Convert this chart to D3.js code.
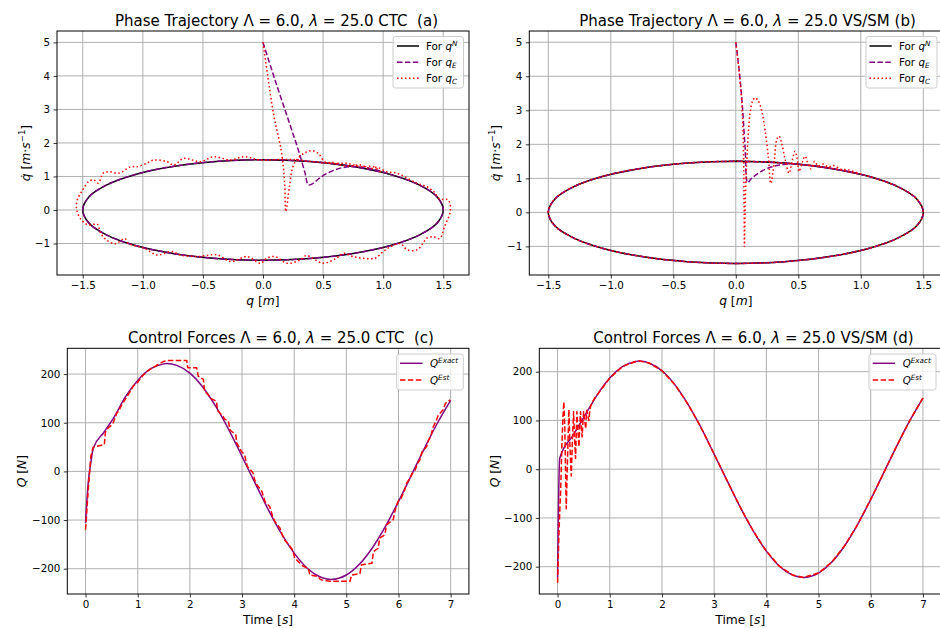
<!DOCTYPE html>
<html><head><meta charset="utf-8">
<script src="https://cdn.jsdelivr.net/npm/d3@7"></script>
<style>
body{margin:0;background:#fff;}
text{font-family:'DejaVu Sans',sans-serif;fill:#000;white-space:pre;}
</style>
</head><body><script>
// ---------------- DATA ----------------
// desired phase trajectory q^N : [q, qdot]
const qN = [[0,1.5],[0.388,1.449],[0.75,1.299],[1.061,1.061],[1.299,0.75],[1.449,0.388],[1.5,0],[1.449,-0.388],[1.299,-0.75],[1.061,-1.061],[0.75,-1.299],[0.388,-1.449],[0,-1.5],[-0.388,-1.449],[-0.75,-1.299],[-1.061,-1.061],[-1.299,-0.75],[-1.449,-0.388],[-1.5,0],[-1.449,0.388],[-1.299,0.75],[-1.061,1.061],[-0.75,1.299],[-0.388,1.449],[0,1.5],[0.388,1.449],[0.75,1.299],[0.985,1.131]];

// panel (a) CTC: q_E transient (then rides on q^N)
const qE_a_start = [[0,5],[0.1,3.88],[0.22,2.59],[0.3,1.72],[0.35,1.1],[0.377,0.75],[0.41,0.78],[0.47,0.95],[0.56,1.14],[0.67,1.27],[0.78,1.29],[0.89,1.24]];
// panel (a) CTC: q_C
const qC_a = [[0,5],[0.086,2.9],[0.155,1.7],[0.18,0.8],[0.19,-0.05],[0.22,0.7],[0.25,1.3],[0.29,1.54],[0.35,1.71],[0.405,1.77],[0.46,1.69],[0.5,1.49],[0.53,1.41],
 [0.58,1.42],[0.64,1.34],[0.72,1.31],[0.81,1.34],[0.89,1.24],[0.95,1.27],[1.03,1.14],[1.11,1.1],[1.2,0.95],[1.28,0.8],[1.36,0.7],[1.42,0.55],[1.47,0.33],[1.54,0.3],[1.56,0],
 [1.51,-0.5],[1.47,-0.85],[1.42,-0.8],[1.36,-0.85],[1.33,-1.0],[1.28,-1.19],[1.2,-1.19],[1.14,-1.0],[1.06,-1.1],[1.0,-1.24],[0.93,-1.44],[0.75,-1.39],[0.67,-1.29],[0.61,-1.44],[0.5,-1.59],[0.36,-1.36],[0.31,-1.49],[0.2,-1.59],[0.1,-1.39],[0.03,-1.44],[-0.02,-1.59],
 [-0.13,-1.39],[-0.27,-1.54],[-0.38,-1.34],[-0.55,-1.39],[-0.69,-1.34],[-0.76,-1.24],[-0.88,-1.34],[-0.99,-1.14],[-1.12,-1.0],[-1.15,-0.85],[-1.23,-1.01],[-1.3,-0.9],[-1.35,-0.7],[-1.38,-0.42],[-1.45,-0.45],[-1.51,-0.3],[-1.55,0],
 [-1.545,0.3],[-1.5,0.6],[-1.45,0.85],[-1.41,0.9],[-1.37,0.8],[-1.33,1.1],[-1.28,1.14],[-1.2,1.1],[-1.1,1.29],[-1.05,1.29],[-0.97,1.39],[-0.91,1.49],[-0.8,1.44],[-0.74,1.34],[-0.66,1.54],[-0.52,1.44],[-0.41,1.59],[-0.27,1.49],[-0.16,1.59],[-0.02,1.49],
 [0.17,1.51],[0.3,1.49],[0.42,1.44],[0.58,1.39],[0.7,1.39],[0.81,1.29],[0.92,1.29],[0.98,1.13]];

// panel (b) VS/SM
const qE_b_start = [[0,5],[0.02,4.4],[0.047,3.4],[0.074,1.93],[0.095,0.87],[0.12,0.98],[0.15,1.07],[0.2,1.2],[0.25,1.29],[0.3,1.35],[0.35,1.39],[0.45,1.43],[0.55,1.4]];
const qC_b_start = [[0,5],[0.025,4.2],[0.045,3.4],[0.058,2.4],[0.064,1.2],[0.067,0],[0.069,-1.0],[0.075,0.2],[0.087,1.44],[0.1,2.3],[0.114,2.91],[0.135,3.28],[0.154,3.37],[0.175,3.3],[0.194,3.16],[0.215,2.85],[0.234,2.42],[0.26,1.64],[0.28,0.85],[0.306,1.44],[0.327,2.13],[0.346,2.24],[0.367,2.03],[0.395,1.55],[0.426,1.15],[0.45,1.5],[0.474,1.8],[0.49,1.6],[0.506,1.2],[0.53,1.45],[0.554,1.65],[0.58,1.4],[0.6,1.28],[0.63,1.5],[0.66,1.36],[0.7,1.42],[0.74,1.33],[0.78,1.38],[0.84,1.27],[0.9,1.25],[1.0,1.13],[1.061,1.061]];

// control forces [t, Q]
const Qexact_tail = [[0.75,151],[1.0,187],[1.25,211],[1.5,221],[1.57,222],[1.75,218],[2.0,202],[2.25,173],[2.5,133],[2.75,85],[3.0,31],[3.25,-24],[3.5,-78],[3.75,-127],[4.0,-168],[4.25,-199],[4.5,-217],[4.71,-222],[5.0,-213],[5.25,-191],[5.5,-157],[5.75,-113],[6.0,-62],[6.25,-7],[6.5,48],[6.75,100],[7.0,146]];
const Qexact_c_start = [[0,-106],[0.05,-24],[0.1,17],[0.15,48],[0.35,80],[0.55,112]];
const Qest_c = [[0,-120],[0.05,-40],[0.1,30],[0.12,40],[0.15,50],[0.2,51],[0.36,55],[0.38,80],[0.43,89],[0.5,95],[0.53,100],[0.6,120],[0.63,123],[0.7,138],[0.72,141],[0.8,155],[0.82,158],[0.9,172],[0.91,175],[1.0,183],[1.01,185],[1.1,197],[1.12,199],[1.2,207],[1.23,209],[1.35,217],[1.39,220],[1.5,226],[1.55,228],[1.94,228],[1.96,213],[2.13,213],[2.16,196],[2.26,189],[2.28,165],[2.38,154],[2.4,150],[2.51,144],[2.53,125],[2.64,113],[2.66,108],[2.74,103],[2.77,85],[2.88,75],[2.9,58],[2.99,41],[3.05,34],[3.1,10],[3.15,5],[3.21,-3],[3.25,-20],[3.28,-27],[3.38,-41],[3.42,-55],[3.44,-62],[3.53,-72],[3.58,-90],[3.63,-103],[3.73,-117],[3.77,-130],[3.82,-141],[3.92,-154],[3.96,-160],[3.98,-165],[4.01,-178],[4.14,-192],[4.17,-195],[4.27,-199],[4.3,-213],[4.46,-216],[4.5,-222],[4.53,-223],[4.69,-226],[5.07,-226],[5.1,-213],[5.26,-210],[5.29,-192],[5.49,-189],[5.52,-165],[5.61,-158],[5.64,-137],[5.74,-130],[5.77,-110],[5.9,-99],[5.93,-82],[5.99,-62],[6.05,-55],[6.12,-38],[6.15,-25],[6.22,-14],[6.26,-5],[6.32,3],[6.36,15],[6.41,24],[6.45,40],[6.54,51],[6.58,65],[6.62,72],[6.66,90],[6.73,106],[6.76,115],[6.86,127],[6.9,140],[6.99,147]];
const Qexact_d_start = [[0,-222],[0.04,22],[0.3,70],[0.55,115]];
const Qest_d_start = [[0,-233],[0.03,-120],[0.06,-40],[0.08,39],[0.1,100],[0.12,138],[0.14,80],[0.166,-81],[0.19,20],[0.217,122],[0.24,40],[0.262,-14],[0.285,60],[0.307,118],[0.325,65],[0.345,22],[0.36,80],[0.37,118],[0.39,80],[0.41,46],[0.425,90],[0.44,118],[0.455,90],[0.47,66],[0.485,95],[0.5,118],[0.52,100],[0.54,83],[0.55,105],[0.56,121],[0.58,110],[0.6,100],[0.615,118],[0.63,128],[0.67,138],[0.71,146]];

const qTicks = [-1.5,-1.0,-0.5,0.0,0.5,1.0,1.5];
const qdotTicks = [-1,0,1,2,3,4,5];
const tTicks = [0,1,2,3,4,5,6,7];
const QTicks = [-200,-100,0,100,200];

// ---------------- DRAW ----------------
const W=940,H=628;
const svg=d3.select('body').append('svg').attr('width',W).attr('height',H);
const minus = s => s.replace(/-/g,'\u2212');
const f1 = d => minus(d3.format('.1f')(d));
const f0 = d => minus(d3.format('d')(d));

function rich(sel, parts, fs){
  let shift=0;
  parts.forEach(p=>{
    const ts=sel.append('tspan').text(p.t);
    let target=0;
    if(p.sup) target=-0.38*fs;
    if(p.sub) target=0.2*fs;
    const dy=target-shift;
    if(dy!==0) ts.attr('dy',dy);
    shift=target;
    if(p.i) ts.attr('font-style','italic');
    if(p.sup||p.sub) ts.attr('font-size',fs*0.7);
  });
}

const BLK={color:'#000',dash:null,w:1.5};
const PURD={color:'purple',dash:'5.5,2.4',w:1.5};
const REDDOT={color:'red',dash:'1.5,2.5',w:1.5};
const PURS={color:'purple',dash:null,w:1.5};
const REDDASH={color:'red',dash:'5.5,2.4',w:1.5};

const TICKFS=10.3, LABFS=12.3, TITFS=15, LEGFS=10.3;

function panel(p){
  const x=d3.scaleLinear().domain(p.xd).range([p.box.l,p.box.r]);
  const y=d3.scaleLinear().domain(p.yd).range([p.box.b,p.box.t]);
  const g=svg.append('g');
  const cid='clip_'+p.id;
  svg.append('clipPath').attr('id',cid).append('rect')
    .attr('x',p.box.l).attr('y',p.box.t).attr('width',p.box.r-p.box.l).attr('height',p.box.b-p.box.t);
  // grid
  const gg=g.append('g').attr('clip-path',`url(#${cid})`);
  gg.selectAll('line.gx').data(p.xt).join('line').attr('class','gx')
    .attr('x1',d=>x(d)).attr('x2',d=>x(d)).attr('y1',p.box.t).attr('y2',p.box.b)
    .attr('stroke','#b0b0b0').attr('stroke-width',1);
  gg.selectAll('line.gy').data(p.yt).join('line').attr('class','gy')
    .attr('y1',d=>y(d)).attr('y2',d=>y(d)).attr('x1',p.box.l).attr('x2',p.box.r)
    .attr('stroke','#b0b0b0').attr('stroke-width',1);
  // series
  const sg=g.append('g').attr('clip-path',`url(#${cid})`);
  p.series.forEach(s=>{
    const line=d3.line().x(d=>x(d[0])).y(d=>y(d[1])).curve(s.curve||d3.curveLinear);
    sg.append('path').datum(s.data).attr('d',line).attr('fill','none')
      .attr('stroke',s.st.color).attr('stroke-width',s.st.w)
      .attr('stroke-dasharray',s.st.dash).attr('stroke-linejoin','round');
  });
  // spines
  g.append('rect').attr('x',p.box.l).attr('y',p.box.t).attr('width',p.box.r-p.box.l).attr('height',p.box.b-p.box.t)
    .attr('fill','none').attr('stroke','#000').attr('stroke-width',1);
  // axes
  const ax=g.append('g').attr('transform',`translate(0,${p.box.b})`)
    .call(d3.axisBottom(x).tickValues(p.xt).tickSize(3.5).tickPadding(3.5).tickFormat(p.xf));
  const ay=g.append('g').attr('transform',`translate(${p.box.l},0)`)
    .call(d3.axisLeft(y).tickValues(p.yt).tickSize(3.5).tickPadding(3.5).tickFormat(p.yf));
  [ax,ay].forEach(a=>{
    a.attr('font-family',null).attr('font-size',null);
    a.select('.domain').remove();
    a.selectAll('line').attr('stroke','#000').attr('stroke-width',0.8);
    a.selectAll('text').attr('font-size',TICKFS).attr('fill','#000');
  });
  // title
  const tt=g.append('text').attr('x',p.titleX).attr('y',p.titleY).attr('text-anchor','middle').attr('font-size',TITFS);
  rich(tt,p.title,TITFS);
  // x label
  const xl=g.append('text').attr('x',(p.box.l+Math.min(p.box.r,p.xlabelR||p.box.r))/2).attr('y',p.xlabelY)
    .attr('text-anchor','middle').attr('font-size',LABFS);
  if(p.xlabelX) xl.attr('x',p.xlabelX);
  rich(xl,p.xlabel,LABFS);
  const yl=g.append('text').attr('transform',`translate(${p.ylabelX},${(p.box.t+p.box.b)/2}) rotate(-90)`)
    .attr('text-anchor','middle').attr('font-size',LABFS);
  rich(yl,p.ylabel,LABFS);
  // legend
  const L=p.legend;
  const lg=g.append('g');
  lg.append('rect').attr('x',L.x).attr('y',L.y).attr('width',L.w).attr('height',L.h)
    .attr('rx',2.5).attr('fill','#fff').attr('fill-opacity',0.8).attr('stroke','#cccccc').attr('stroke-width',1);
  L.items.forEach((it,i)=>{
    const yy=L.rows[i];
    lg.append('line').attr('x1',L.lx[0]).attr('x2',L.lx[1]).attr('y1',yy).attr('y2',yy)
      .attr('stroke',it.st.color).attr('stroke-width',it.st.w).attr('stroke-dasharray',it.st.dash);
    const t=lg.append('text').attr('x',L.tx).attr('y',yy+0.36*LEGFS).attr('font-size',LEGFS);
    rich(t,it.label,LEGFS);
  });
}

const cr = d3.curveCatmullRom.alpha(0.5);
const mono = d3.curveMonotoneX;
const legQ=[
  {st:BLK,label:[{t:'For '},{t:'q',i:1},{t:'N',i:1,sup:1}]},
  {st:PURD,label:[{t:'For '},{t:'q',i:1},{t:'E',i:1,sub:1}]},
  {st:REDDOT,label:[{t:'For '},{t:'q',i:1},{t:'C',i:1,sub:1}]}];
const legF=[
  {st:PURS,label:[{t:'Q',i:1},{t:'Exact',i:1,sup:1}]},
  {st:REDDASH,label:[{t:'Q',i:1},{t:'Est',i:1,sup:1}]}];
const ylabQ=[{t:'q\u0307',i:1},{t:' ['},{t:'m',i:1},{t:'\u00b7'},{t:'s',i:1},{t:'\u22121',sup:1},{t:']'}];
const xlabQ=[{t:'q',i:1},{t:' ['},{t:'m',i:1},{t:']'}];
const xlabT=[{t:'Time ['},{t:'s',i:1},{t:']'}];
const ylabF=[{t:'Q',i:1},{t:' ['},{t:'N',i:1},{t:']'}];

panel({id:'a',box:{l:57,r:469,t:31,b:275},xd:[-1.714,1.714],yd:[-1.94,5.34],xt:qTicks,yt:qdotTicks,xf:f1,yf:f0,
  title:[{t:'Phase Trajectory \u039b = 6.0, '},{t:'\u03bb',i:1},{t:' = 25.0 CTC  (a)'}],titleX:276.5,titleY:25.5,
  xlabel:xlabQ,xlabelY:305,ylabel:ylabQ,ylabelX:30,
  series:[{data:qN,st:BLK,curve:cr},{data:qE_a_start.concat(qN.slice(3)),st:PURD,curve:cr},{data:qC_a,st:REDDOT,curve:cr}],
  legend:{x:393,y:36.5,w:70.5,h:51.5,lx:[397,419],tx:426,rows:[46,62.3,78.3],items:legQ}});

panel({id:'b',box:{l:529.3,r:942.3,t:31,b:275},xd:[-1.652,1.652],yd:[-1.84,5.33],xt:qTicks,yt:qdotTicks,xf:f1,yf:f0,
  title:[{t:'Phase Trajectory \u039b = 6.0, '},{t:'\u03bb',i:1},{t:' = 25.0 VS/SM (b)'}],titleX:747.5,titleY:25.5,
  xlabel:xlabQ,xlabelX:735.8,xlabelY:305,ylabel:ylabQ,ylabelX:500,
  series:[{data:qN,st:BLK,curve:cr},{data:qE_b_start.concat(qN.slice(2)),st:PURD,curve:cr},{data:qC_b_start.concat(qN.slice(4)),st:REDDOT,curve:cr}],
  legend:{x:866,y:36.5,w:71,h:51.5,lx:[869.5,891.7],tx:899,rows:[46,62.3,78.3],items:legQ}});

panel({id:'c',box:{l:67.3,r:468.9,t:348.3,b:594},xd:[-0.35,7.35],yd:[-252,253],xt:tTicks,yt:QTicks,xf:f0,yf:f0,
  title:[{t:'Control Forces \u039b = 6.0, '},{t:'\u03bb',i:1},{t:' = 25.0 CTC  (c)'}],titleX:281,titleY:343,
  xlabel:xlabT,xlabelY:624,ylabel:ylabF,ylabelX:26,
  series:[{data:Qexact_c_start.concat(Qexact_tail),st:PURS,curve:mono},{data:Qest_c,st:REDDASH}],
  legend:{x:396.7,y:354,w:66.6,h:36,lx:[400,422.5],tx:430,rows:[363.3,380],items:legF}});

panel({id:'d',box:{l:539.3,r:941.2,t:348.3,b:594},xd:[-0.35,7.35],yd:[-256,248],xt:tTicks,yt:QTicks,xf:f0,yf:f0,
  title:[{t:'Control Forces \u039b = 6.0, '},{t:'\u03bb',i:1},{t:' = 25.0 VS/SM (d)'}],titleX:753.5,titleY:343,
  xlabel:xlabT,xlabelX:740.3,xlabelY:624,ylabel:ylabF,ylabelX:499,
  series:[{data:Qexact_d_start.concat(Qexact_tail),st:PURS,curve:mono},{data:Qest_d_start.concat(Qexact_tail),st:REDDASH}],
  legend:{x:869,y:354,w:67,h:36,lx:[872.7,895],tx:902.7,rows:[363.3,380],items:legF}});
</script></body></html>
